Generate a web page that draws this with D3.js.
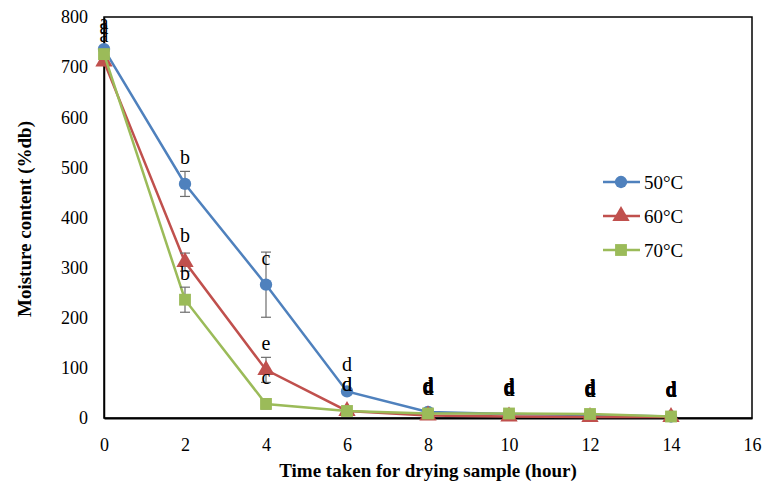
<!DOCTYPE html>
<html><head><meta charset="utf-8">
<script src="https://cdn.jsdelivr.net/npm/d3@7"></script>
<style>body{margin:0;background:#fff}svg{display:block}</style>
</head><body>
<svg id="c" width="765" height="491"></svg>
<script>
const hours = [0, 2, 4, 6, 8, 10, 12, 14];
const seriesNames = ["50°C", "60°C", "70°C"];
const values50 = [736, 467, 266, 53, 12, 8, 6, 3];
const values60 = [711, 311, 96, 14, 5, 3, 2, 2];
const values70 = [726, 236, 28, 14, 9, 9, 8, 3];
const err50 = [0, 25, 65, 5, 2, 1, 1, 1];
const err60 = [0, 18, 25, 2, 1, 1, 1, 1];
const err70 = [0, 25, 10, 2, 1, 1, 1, 1];
const letters50 = ["a", "b", "c", "d", "d", "d", "d", "d"];
const letters60 = ["a", "b", "e", "d", "d", "d", "d", "d"];
const letters70 = ["a", "b", "c", "d", "d", "d", "d", "d"];
const xTicks = [0, 2, 4, 6, 8, 10, 12, 14, 16];
const yTicks = [0, 100, 200, 300, 400, 500, 600, 700, 800];
const colors = ["#4F81BD", "#C0504D", "#9BBB59"];
const symbols = [d3.symbolCircle, d3.symbolTriangle, d3.symbolSquare];
const symSizes = [120, 130, 140];

const svg = d3.select("#c");
const L = 104, R = 752, T = 17, B = 418;
const x = d3.scaleLinear().domain([0, 16]).range([L, R]);
const y = d3.scaleLinear().domain([0, 800]).range([B, T]);
const font = "'Liberation Serif', 'Times New Roman', serif";

// frame
svg.append("rect").attr("x", L).attr("y", T).attr("width", R - L).attr("height", B - T)
  .attr("fill", "none").attr("stroke", "#000").attr("stroke-width", 1.5);

// axes
const xa = svg.append("g").attr("transform", `translate(0,${B})`)
  .call(d3.axisBottom(x).tickValues(xTicks).tickSize(0).tickPadding(20));
const ya = svg.append("g").attr("transform", `translate(${L},0)`)
  .call(d3.axisLeft(y).tickValues(yTicks).tickSize(0).tickPadding(16));
[xa, ya].forEach(g => {
  g.select(".domain").attr("stroke", "#000").attr("stroke-width", 2);
  g.selectAll("text").attr("font-family", font).attr("font-size", 18).attr("fill", "#000");
});
ya.select(".domain").attr("stroke-width", 1.5);

const series = [
  {vals: values50, err: err50, lab: letters50},
  {vals: values60, err: err60, lab: letters60},
  {vals: values70, err: err70, lab: letters70}
];
const line = d3.line().x((d, i) => x(hours[i])).y(d => y(d));

series.forEach((s, k) => {
  const g = svg.append("g");
  g.append("path").datum(s.vals).attr("d", line).attr("fill", "none")
    .attr("stroke", colors[k]).attr("stroke-width", 2.5);
  // error bars
  s.vals.forEach((v, i) => {
    if (s.err[i] <= 2) return;
    const cx = x(hours[i]), y1 = y(v + s.err[i]), y2 = y(v - s.err[i]);
    g.append("line").attr("x1", cx).attr("x2", cx).attr("y1", y1).attr("y2", y2)
      .attr("stroke", "#6d6d6d").attr("stroke-width", 1.2);
    [y1, y2].forEach(yy => g.append("line").attr("x1", cx - 5).attr("x2", cx + 5)
      .attr("y1", yy).attr("y2", yy).attr("stroke", "#6d6d6d").attr("stroke-width", 1.2));
  });
  g.selectAll("path.m").data(s.vals).enter().append("path").attr("class", "m")
    .attr("d", d3.symbol().type(symbols[k]).size(symSizes[k]))
    .attr("transform", (d, i) => `translate(${x(hours[i])},${y(d)})`)
    .attr("fill", colors[k]);
});

// letters
series.forEach((s, k) => {
  svg.append("g").selectAll("text").data(s.vals).enter().append("text")
    .attr("x", (d, i) => x(hours[i]))
    .attr("y", d => y(d) - 20)
    .attr("text-anchor", "middle")
    .attr("font-family", font).attr("font-size", 20)
    .attr("font-weight", (d, i) => i >= 4 ? "bold" : "normal")
    .attr("fill", "#000")
    .text((d, i) => s.lab[i]);
});

// legend
seriesNames.forEach((n, k) => {
  const ly = 182 + k * 34;
  svg.append("line").attr("x1", 603).attr("x2", 640).attr("y1", ly).attr("y2", ly)
    .attr("stroke", colors[k]).attr("stroke-width", 2.5);
  svg.append("path").attr("d", d3.symbol().type(symbols[k]).size(symSizes[k]))
    .attr("transform", `translate(621,${ly})`).attr("fill", colors[k]);
  svg.append("text").attr("x", 644).attr("y", ly + 7).text(n)
    .attr("font-family", font).attr("font-size", 19).attr("fill", "#000");
});

// titles
svg.append("text").attr("x", 428).attr("y", 477).attr("text-anchor", "middle")
  .attr("font-family", font).attr("font-size", 19).attr("font-weight", "bold")
  .text("Time taken for drying sample (hour)");
svg.append("text").attr("transform", "translate(31,219) rotate(-90)").attr("text-anchor", "middle")
  .attr("font-family", font).attr("font-size", 19).attr("font-weight", "bold")
  .text("Moisture content (%db)");
</script>
</body></html>
